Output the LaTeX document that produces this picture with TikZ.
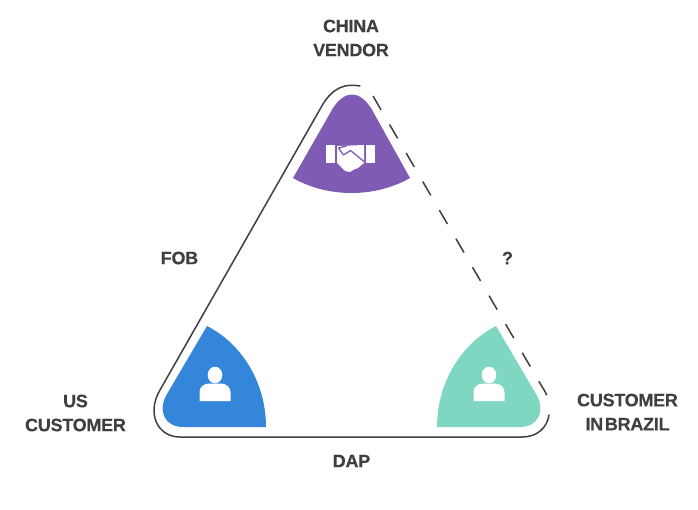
\documentclass[tikz,border=0pt]{standalone}
\usepackage{fontspec}
\setmainfont[BoldFeatures={FakeBold=0.25,LetterSpace=-1.5}]{Liberation Sans}
\definecolor{ink}{HTML}{3F3F42}
\definecolor{vio}{HTML}{7F5BB3}
\definecolor{blu}{HTML}{3486DA}
\definecolor{tea}{HTML}{7FD6C1}
\tikzset{
  lab/.style={font=\bfseries\fontsize{18}{24}\selectfont, text=ink, align=center, inner sep=0pt},
  wire/.style={draw=ink, line width=1.5pt, line cap=round, line join=round},
  glyph/.style={fill=white, draw=none},
}
\newcommand{\personicon}[2]{%
  \fill[glyph] (#1,#2-26) ellipse [x radius=7.3, y radius=8.3];
  \fill[glyph] (#1-15.5,#2) -- (#1-15.5,#2-9) .. controls (#1-15.5,#2-14) and (#1-11,#2-17.5) .. (#1-6,#2-17.5)
    -- (#1+6,#2-17.5) .. controls (#1+11,#2-17.5) and (#1+15.5,#2-14) .. (#1+15.5,#2-9) -- (#1+15.5,#2) -- cycle;
}
\begin{document}
\begin{tikzpicture}[x=1pt,y=-1pt]
\useasboundingbox (0,0) rectangle (698,509);
\fill[vio] (293,178) -- (333,108) .. controls (345,90) and (359,90) .. (371,108) -- (410,178)
  .. controls (375,198) and (328,198) .. (293,178) -- cycle;
\fill[blu] (207,326) .. controls (244,345) and (266,385) .. (266,427) -- (183,427)
  .. controls (165,427) and (157,411) .. (167,394) -- cycle;
\fill[tea] (496,326) .. controls (459,345) and (437,385) .. (437,427) -- (520,427)
  .. controls (538,427) and (546,411) .. (536,394) -- cycle;
\coordinate (ltop) at (360,86);
\coordinate (lbot) at (180,437);
\coordinate (rbot) at (522,437);
\coordinate (rend) at (549,415);
\coordinate (dstart) at (373,96);
\coordinate (dend) at (548,399);
\draw[wire] (ltop) .. controls (345,83) and (333,88) .. (323,104) -- (160,390)
  .. controls (146,414) and (158,437) .. (lbot) -- (rbot) .. controls (537,437) and (547,428) .. (rend);
\draw[wire, line cap=butt, dash pattern=on 16pt off 17pt] (dstart) -- (541,385) .. controls (545,391) and (547,395) .. (dend);
% handshake
\fill[glyph] (326,144.5) rectangle (335,163);
\fill[glyph] (366,144.5) rectangle (375,163);
\fill[glyph] (337,146) -- (364,145) -- (364,163) -- (358,168) -- (354,169.5) -- (350,172) -- (345,171) -- (337,163) -- cycle;
\draw[vio, line width=1.3pt, line join=round] (347,145.8) -- (338.5,148) -- (343.5,155) -- (350.5,150.5) -- (364,161.5);
\personicon{215}{401}
\personicon{489}{401}
\node[lab] (china) at (351,38) {CHINA\\VENDOR};
\node[lab] (us) at (75.5,413) {US\\CUSTOMER};
\node[lab] (brazil) at (627.5,412) {CUSTOMER\\IN\hspace{-3pt} BRAZIL};
\node[lab] (fob) at (179.5,258) {FOB};
\node[lab] (q) at (507.5,258) {?};
\node[lab] (dap) at (351.5,461) {DAP};
\end{tikzpicture}
\end{document}
